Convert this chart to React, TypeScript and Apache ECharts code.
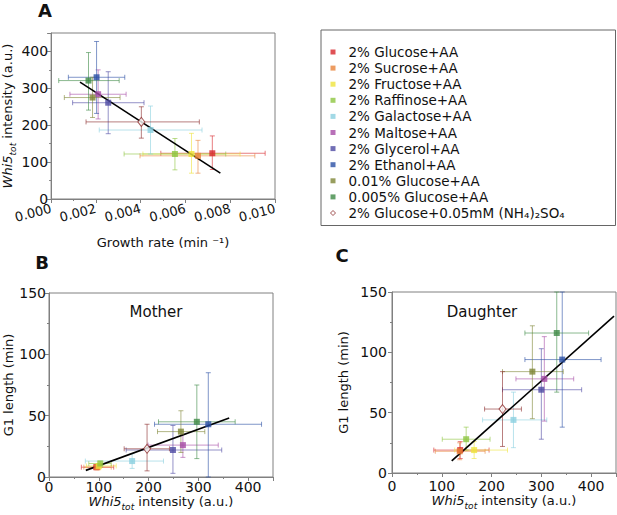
import React, { useEffect, useRef } from "react";
import * as echarts from "echarts";

// ---------- data ----------
const conditions = [
  "2% Glucose+AA",
  "2% Sucrose+AA",
  "2% Fructose+AA",
  "2% Raffinose+AA",
  "2% Galactose+AA",
  "2% Maltose+AA",
  "2% Glycerol+AA",
  "2% Ethanol+AA",
  "0.01% Glucose+AA",
  "0.005% Glucose+AA",
  "2% Glucose+0.05mM (NH₄)₂SO₄",
];
const colors = [
  "#d7262b", "#e8833a", "#efe33c", "#8dc540", "#8bd0e0", "#a64ca6",
  "#4e4aa3", "#2b50a5", "#7e8636", "#3e8a46", "#8b2a2a",
];

// Panel A: growth rate (min^-1) vs Whi5tot intensity
const growthRate = [0.0072, 0.00656, 0.00627, 0.00553, 0.00444, 0.0021, 0.00255, 0.00203, 0.00185, 0.00167, 0.00403];
const growthRateLow = [0.0049, 0.00397, 0.0041, 0.00326, 0.00215, 0.00084, 0.00096, 0.00077, 0.00059, 0.00034, 0.00156];
const growthRateHigh = [0.00956, 0.0091, 0.00844, 0.0078, 0.00674, 0.00335, 0.00415, 0.00329, 0.00308, 0.00304, 0.00662];
const whi5A = [124, 117, 122, 122, 187, 284, 261, 330, 275, 321, 209];
const whi5ALow = [80, 70, 70, 79, 122, 217, 177, 232, 221, 241, 165];
const whi5AHigh = [171, 159, 178, 164, 252, 350, 345, 427, 330, 397, 250];
const fitA = [[0.00129, 317], [0.00756, 70]];

// Panel B: Mother
const whi5B = [95, 97, 100, 103, 167, 269, 249, 320, 265, 297, 197];
const whi5BLow = [65, 70, 75, 80, 73, 199, 155, 212, 218, 220, 151];
const whi5BHigh = [130, 125, 135, 125, 230, 340, 347, 427, 313, 374, 242];
const g1Mother = [8, 8, 9, 11, 13, 26, 22, 43, 37, 45, 23];
const g1MotherLow = [6, 6, 6, 8, 7, 16, 3, 0, 20, 15, 5];
const g1MotherHigh = [10, 10, 11, 13, 19, 35, 42, 85, 54, 75, 43];
const fitB = [[74, 5.4], [362, 48]];

// Panel C: Daughter
const whi5C = [137, 136, 165, 149, 244, 306, 300, 342, 282, 331, 222];
const whi5CLow = [84, 87, 126, 101, 182, 249, 222, 267, 222, 267, 186];
const whi5CHigh = [195, 187, 232, 197, 311, 365, 381, 420, 344, 395, 260];
const g1Daughter = [19, 18, 19, 28, 44, 78, 69, 94, 84, 116, 53];
const g1DaughterLow = [12, 11, 12, 19, 21, 43, 28, 38, 45, 67, 22];
const g1DaughterHigh = [26, 25, 26, 38, 67, 113, 103, 150, 122, 150, 84];
const fitC = [[120, 10], [446, 130]];

const whi5TicksLabel = [0, 100, 200, 300, 400];

// ---------- chart ----------
const FONT = "DejaVu Sans";
const AXIS_GRAY = "#808080";

const whi5Name = "{i|Whi5}{s|tot}{n| intensity (a.u.)}";
const whi5Rich = {
  i: { fontStyle: "italic", fontSize: 13, lineHeight: 20, verticalAlign: "middle", color: "#111", fontFamily: FONT },
  s: { fontStyle: "italic", fontSize: 9, lineHeight: 20, verticalAlign: "bottom", color: "#111", fontFamily: FONT },
  n: { fontSize: 13, lineHeight: 20, verticalAlign: "middle", color: "#111", fontFamily: FONT },
};

function baseAxis(gridIndex: number, extra: any) {
  return {
    type: "value",
    gridIndex,
    axisLine: { show: true, onZero: false, lineStyle: { color: AXIS_GRAY, width: 1 } },
    axisTick: { show: true, inside: false, length: 4, lineStyle: { color: AXIS_GRAY } },
    minorTick: { show: true, splitNumber: 2, length: 2, lineStyle: { color: AXIS_GRAY } },
    splitLine: { show: false },
    nameLocation: "middle",
    nameTextStyle: { fontSize: 13, color: "#111", fontFamily: FONT },
    axisLabel: { fontSize: 14, color: "#111", fontFamily: FONT, margin: 3 },
    ...extra,
  };
}

function errRender(color: string) {
  return (params: any, api: any) => {
    const x = api.value(0), y = api.value(1);
    const pL = api.coord([api.value(2), y]);
    const pR = api.coord([api.value(3), y]);
    const pB = api.coord([x, api.value(4)]);
    const pT = api.coord([x, api.value(5)]);
    const cap = 2.5;
    const style = { stroke: color, lineWidth: 1, opacity: 0.6 };
    const ln = (x1: number, y1: number, x2: number, y2: number) => ({
      type: "line", shape: { x1, y1, x2, y2 }, style,
    });
    return {
      type: "group",
      children: [
        ln(pL[0], pL[1], pR[0], pR[1]),
        ln(pL[0], pL[1] - cap, pL[0], pL[1] + cap),
        ln(pR[0], pR[1] - cap, pR[0], pR[1] + cap),
        ln(pB[0], pB[1], pT[0], pT[1]),
        ln(pB[0] - cap, pB[1], pB[0] + cap, pB[1]),
        ln(pT[0] - cap, pT[1], pT[0] + cap, pT[1]),
      ],
    };
  };
}

function buildOption() {
  const panels = [
    { x: growthRate, xl: growthRateLow, xh: growthRateHigh, y: whi5A, yl: whi5ALow, yh: whi5AHigh, fit: fitA },
    { x: whi5B, xl: whi5BLow, xh: whi5BHigh, y: g1Mother, yl: g1MotherLow, yh: g1MotherHigh, fit: fitB },
    { x: whi5C, xl: whi5CLow, xh: whi5CHigh, y: g1Daughter, yl: g1DaughterLow, yh: g1DaughterHigh, fit: fitC },
  ];

  const scatterSeries: any[] = [];
  const errSeries: any[] = [];
  const fitSeries: any[] = [];
  panels.forEach((p, g) => {
    conditions.forEach((name, i) => {
      const isDiamond = i === conditions.length - 1;
      scatterSeries.push({
        type: "scatter",
        name,
        xAxisIndex: g,
        yAxisIndex: g,
        data: [[p.x[i], p.y[i]]],
        symbol: isDiamond ? "diamond" : "rect",
        symbolSize: isDiamond ? [7, 9] : 6,
        itemStyle: isDiamond
          ? { color: "#ffffff", borderColor: colors[i], borderWidth: 1 }
          : { color: colors[i] },
        z: 5,
      });
      errSeries.push({
        type: "custom",
        name,
        xAxisIndex: g,
        yAxisIndex: g,
        data: [[p.x[i], p.y[i], p.xl[i], p.xh[i], p.yl[i], p.yh[i]]],
        encode: { x: [0, 2, 3], y: [1, 4, 5] },
        renderItem: errRender(colors[i]),
        itemStyle: { color: colors[i] },
        z: 3,
      });
    });
    fitSeries.push({
      type: "line",
      name: "fit " + g,
      xAxisIndex: g,
      yAxisIndex: g,
      data: p.fit,
      symbol: "none",
      lineStyle: { color: "#000", width: 1.6 },
      silent: true,
      z: 4,
    });
  });

  const gridStyle = { show: true, borderColor: AXIS_GRAY, borderWidth: 1, backgroundColor: "transparent" };

  return {
    animation: false,
    textStyle: { fontFamily: FONT },
    grid: [
      { left: 50, top: 33, width: 225, height: 166, ...gridStyle },
      { left: 49, top: 293, width: 224, height: 184, ...gridStyle },
      { left: 392, top: 292, width: 224, height: 181, ...gridStyle },
    ],
    xAxis: [
      baseAxis(0, {
        min: 0, max: 0.01, interval: 0.002,
        name: "Growth rate (min ⁻¹)",
        nameGap: 37,
        axisLabel: { fontSize: 13, color: "#111", fontFamily: FONT, margin: 9, rotate: 15, formatter: (v: number) => v.toFixed(3) },
      }),
      baseAxis(1, {
        min: 0, max: 450, interval: 100,
        name: whi5Name, nameGap: 13,
        nameTextStyle: { fontSize: 13, rich: whi5Rich },
        axisLabel: { fontSize: 14, color: "#111", fontFamily: FONT, margin: 3, customValues: whi5TicksLabel },
      }),
      baseAxis(2, {
        min: 0, max: 450, interval: 100,
        name: whi5Name, nameGap: 15,
        nameTextStyle: { fontSize: 13, rich: whi5Rich },
        axisLabel: { fontSize: 14, color: "#111", fontFamily: FONT, margin: 6, customValues: whi5TicksLabel },
      }),
    ],
    yAxis: [
      baseAxis(0, {
        min: 0, max: 450, interval: 100,
        name: whi5Name, nameGap: 27,
        nameTextStyle: { fontSize: 13, rich: whi5Rich },
        axisLabel: { fontSize: 14, color: "#111", fontFamily: FONT, margin: 3, customValues: whi5TicksLabel },
      }),
      baseAxis(1, {
        min: 0, max: 150, interval: 50,
        name: "G1 length (min)", nameGap: 32,
      }),
      baseAxis(2, {
        min: 0, max: 150, interval: 50,
        name: "G1 length (min)", nameGap: 42,
        axisLabel: { fontSize: 14, color: "#111", fontFamily: FONT, margin: 5 },
      }),
    ],
    legend: {
      orient: "vertical",
      left: 325,
      top: 40,
      itemWidth: 5,
      itemHeight: 5,
      itemGap: 2.1,
      textStyle: { fontSize: 13.5, color: "#111", fontFamily: FONT, padding: [0, 0, 0, 8] },
      data: conditions.map((name, i) =>
        i === conditions.length - 1
          ? { name, icon: "diamond", itemStyle: { color: "#ffffff", borderColor: colors[i], borderWidth: 1 } }
          : { name, icon: "rect" }
      ),
    },
    graphic: [
      { type: "rect", shape: { x: 321, y: 30, width: 294.5, height: 195.5 }, style: { fill: "none", stroke: "#666", lineWidth: 1 }, silent: true },
      { type: "text", x: 45, y: 10, style: { text: "A", fontSize: 18, fontWeight: "bold", fontFamily: FONT, fill: "#111", align: "center", verticalAlign: "middle" } },
      { type: "text", x: 42, y: 262, style: { text: "B", fontSize: 18, fontWeight: "bold", fontFamily: FONT, fill: "#111", align: "center", verticalAlign: "middle" } },
      { type: "text", x: 342, y: 255, style: { text: "C", fontSize: 18, fontWeight: "bold", fontFamily: FONT, fill: "#111", align: "center", verticalAlign: "middle" } },
      { type: "text", x: 156, y: 312, style: { text: "Mother", fontSize: 15, fontFamily: FONT, fill: "#111", align: "center", verticalAlign: "middle" } },
      { type: "text", x: 482, y: 312, style: { text: "Daughter", fontSize: 15, fontFamily: FONT, fill: "#111", align: "center", verticalAlign: "middle" } },
    ],
    series: [...scatterSeries, ...errSeries, ...fitSeries],
  };
}

export default function App() {
  const ref = useRef<HTMLDivElement>(null);
  useEffect(() => {
    if (!ref.current) return;
    const chart = echarts.init(ref.current, undefined, { renderer: "svg" });
    chart.setOption(buildOption() as any);
    return () => chart.dispose();
  }, []);
  return (
    <div
      ref={ref}
      style={{ position: "fixed", left: 0, top: 0, width: 617, height: 515, background: "#fff" }}
    />
  );
}
